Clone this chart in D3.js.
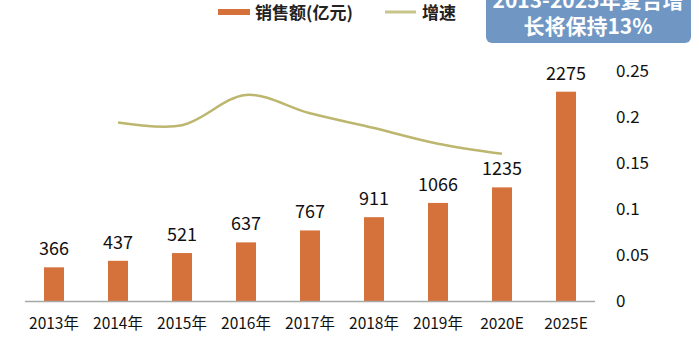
<!DOCTYPE html>
<html><head><meta charset="utf-8">
<script src="https://cdn.jsdelivr.net/npm/d3@7"></script>
<style>body{margin:0;background:#fff}svg{display:block}text{font-family:"Noto Sans CJK SC","Noto Sans",sans-serif}</style>
</head><body><svg id="c" width="699" height="350"></svg>
<script>
const categories = ["2013年","2014年","2015年","2016年","2017年","2018年","2019年","2020E","2025E"];
const sales = [366,437,521,637,767,911,1066,1235,2275];
const growthCats = ["2014年","2015年","2016年","2017年","2018年","2019年","2020E"];
const growth = [0.194,0.191,0.224,0.204,0.188,0.171,0.160];
const rightTicks = [0,0.05,0.1,0.15,0.2,0.25];
const rightTickLabels = ["0","0.05","0.1","0.15","0.2","0.25"];

const svg = d3.select("#c");
const x = d3.scaleBand().domain(categories).range([22,598]).paddingInner(0.6875).paddingOuter(0.34375);
const yL = d3.scaleLinear().domain([0,2500]).range([301,71]);
const yR = d3.scaleLinear().domain([0,0.25]).range([301,71]);
const cx = d => x(d) + x.bandwidth()/2;

// bars
svg.selectAll("rect.bar").data(sales).join("rect")
  .attr("x",(d,i)=>x(categories[i])).attr("width",x.bandwidth())
  .attr("y",d=>yL(d)).attr("height",d=>yL(0)-yL(d)).attr("fill","#d5713b");
// value labels
svg.selectAll("text.val").data(sales).join("text")
  .attr("x",(d,i)=>cx(categories[i])).attr("y",d=>yL(d)-12)
  .attr("text-anchor","middle").attr("font-size",18).attr("fill","#111").text(d=>d);

// x axis line
svg.append("line").attr("x1",25).attr("x2",595).attr("y1",301.5).attr("y2",301.5).attr("stroke","#a8a8a8").attr("stroke-width",1.5);
// x labels
svg.selectAll("text.xl").data(categories).join("text")
  .attr("x",d=>cx(d)).attr("y",329).attr("text-anchor","middle")
  .attr("font-size",15.5).attr("fill","#111").text(d=>d);

// right axis labels
svg.selectAll("text.yr").data(rightTicks).join("text")
  .attr("x",616).attr("y",d=>yR(d)+6).attr("font-size",17).attr("fill","#111")
  .text((d,i)=>rightTickLabels[i]);

// growth line
const line = d3.line().x((d,i)=>cx(growthCats[i])).y(d=>yR(d)).curve(d3.curveCatmullRom.alpha(0.5));
svg.append("path").datum(growth).attr("d",line).attr("fill","none").attr("stroke","#bdb66f").attr("stroke-width",2.5);

// legend
svg.append("line").attr("x1",218).attr("x2",250).attr("y1",12).attr("y2",12).attr("stroke","#d5713b").attr("stroke-width",6);
svg.append("text").attr("x",255).attr("y",19).attr("font-size",17).attr("font-weight","bold").attr("fill","#222").text("销售额(亿元)");
svg.append("line").attr("x1",385).attr("x2",416).attr("y1",12).attr("y2",12).attr("stroke","#c9c48a").attr("stroke-width",3);
svg.append("text").attr("x",422).attr("y",19).attr("font-size",17).attr("font-weight","bold").attr("fill","#222").text("增速");

// callout box
svg.append("rect").attr("x",486).attr("y",-12).attr("width",205).attr("height",55).attr("rx",6).attr("fill","#7097c3");
svg.append("text").attr("x",588).attr("y",8).attr("text-anchor","middle").attr("font-size",21).attr("font-weight","bold").attr("fill","#fff").text("2013-2025年复合增");
svg.append("text").attr("x",588).attr("y",34).attr("text-anchor","middle").attr("font-size",21).attr("font-weight","bold").attr("fill","#fff").text("长将保持13%");
</script></body></html>
